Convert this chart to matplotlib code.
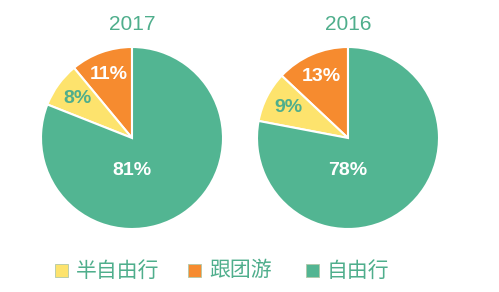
import numpy as np
import matplotlib
matplotlib.use("Agg")
import matplotlib.pyplot as plt
from matplotlib.patches import Rectangle

plt.rcParams['font.family'] = ['Liberation Sans', 'Noto Sans CJK SC', 'DejaVu Sans']

years = ["2017", "2016"]
categories = ["跟团游", "半自由行", "自由行"]
values_2017 = [11, 8, 81]
values_2016 = [13, 9, 78]
legend_order = ["半自由行", "跟团游", "自由行"]

colors = {"跟团游": "#f68b2f", "半自由行": "#fde36d", "自由行": "#52b592"}
label_colors = {"跟团游": "white", "半自由行": "#4fae8c", "自由行": "white"}
text_green = "#4fae8c"

W, H = 499, 292
fig = plt.figure(figsize=(W / 100, H / 100), dpi=100)

centers = [(132, 138), (348, 138)]
R = 91

for (cx, cy), year, vals in zip(centers, years, [values_2017, values_2016]):
    ax = fig.add_axes([(cx - R) / W, (H - cy - R) / H, 2 * R / W, 2 * R / H])
    wedges, _ = ax.pie(vals, colors=[colors[c] for c in categories], startangle=90,
                       counterclock=True, radius=1,
                       wedgeprops=dict(edgecolor="white", linewidth=1.5))
    ax.set_xlim(-1, 1)
    ax.set_ylim(-1, 1)
    ax.set_aspect("auto")
    ax.axis("off")
    total = sum(vals)
    start = 90.0
    for c, v in zip(categories, vals):
        ang = start + 360.0 * v / total / 2
        start += 360.0 * v / total
        if v > 50:
            x, y = 0.0, -0.36
        else:
            d = 0.74
            x, y = d * np.cos(np.radians(ang)), d * np.sin(np.radians(ang))
        ax.text(x, y, f"{v}%", ha="center", va="center", fontsize=14,
                fontweight="bold", color=label_colors[c])
    ax.text(0, 1.25, year, ha="center", va="center", fontsize=15, color=text_green,
            transform=ax.transData, clip_on=False)

# legend
lax = fig.add_axes([0, 0, 1, 1])
lax.set_xlim(0, W)
lax.set_ylim(H, 0)
lax.axis("off")
leg_x = [55, 188, 306]
for x, c in zip(leg_x, legend_order):
    lax.add_patch(Rectangle((x, 264), 13, 13, facecolor=colors[c],
                            edgecolor="#b0c8a8", linewidth=0.6))
    lax.text(x + 21, 270.5, c, ha="left", va="center", fontsize=15,
             color=text_green, family=['Noto Sans CJK SC', 'DejaVu Sans'])

fig.savefig("out.png", dpi=100)
